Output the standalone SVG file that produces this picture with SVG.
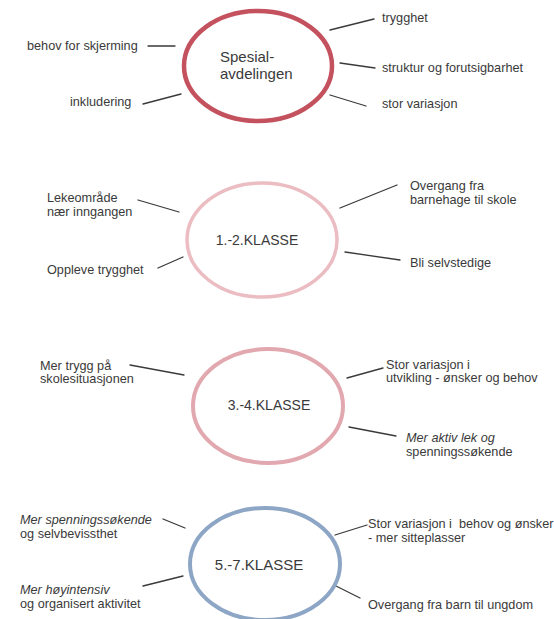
<svg xmlns="http://www.w3.org/2000/svg" width="554" height="619" viewBox="0 0 554 619">
<style>
.lbl{font-family:"Liberation Sans",Arial,sans-serif;font-size:12.7px;fill:#3a3a3a}
.ctr{font-family:"Liberation Sans",Arial,sans-serif;font-size:14px;fill:#3a3a3a}
.it{font-style:italic}
.e{fill:none}
#connectors line{stroke:#3a3a3a;stroke-width:1.3;stroke-linecap:round}
</style>
<rect width="554" height="619" fill="#ffffff"/>
<g id="connectors">
<line x1="148" y1="46" x2="175" y2="46"/>
<line x1="143" y1="104" x2="181" y2="94"/>
<line x1="330" y1="30" x2="374" y2="19"/>
<line x1="340" y1="63" x2="375" y2="68"/>
<line x1="330" y1="95" x2="366" y2="106"/>
<line x1="138" y1="200" x2="179" y2="212"/>
<line x1="158" y1="268" x2="183" y2="257"/>
<line x1="340" y1="208" x2="397" y2="185"/>
<line x1="345" y1="252" x2="400" y2="260"/>
<line x1="130" y1="365" x2="184" y2="375"/>
<line x1="347" y1="378" x2="383" y2="368"/>
<line x1="349" y1="427" x2="396" y2="436"/>
<line x1="163" y1="519" x2="185" y2="528"/>
<line x1="143" y1="586" x2="183" y2="576"/>
<line x1="335" y1="535" x2="367" y2="525"/>
<line x1="336" y1="586" x2="360" y2="598"/>
</g>
<g id="spesial">
<ellipse class="e" cx="258" cy="66" rx="74" ry="55" stroke="#c4525e" stroke-width="4.5"/>
<text class="ctr" x="220" y="62" style="font-size:15px">Spesial-</text>
<text class="ctr" x="220" y="79" style="font-size:15px">avdelingen</text>
</g>
<g id="n-behov"><text class="lbl" x="27" y="50">behov for skjerming</text></g>
<g id="n-inkl"><text class="lbl" x="70" y="106">inkludering</text></g>
<g id="n-trygghet"><text class="lbl" x="382" y="22">trygghet</text></g>
<g id="n-struktur"><text class="lbl" x="382" y="72">struktur og forutsigbarhet</text></g>
<g id="n-stor"><text class="lbl" x="382" y="108">stor variasjon</text></g>
<g id="klasse12">
<ellipse class="e" cx="262" cy="240" rx="75" ry="57" stroke="#ebbcc1" stroke-width="3.5"/>
<text class="ctr" x="257" y="245" text-anchor="middle">1.-2.KLASSE</text>
</g>
<g id="n-leke"><text class="lbl" x="47" y="202">Lekeområde</text><text class="lbl" x="47" y="216">nær inngangen</text></g>
<g id="n-oppleve"><text class="lbl" x="47" y="274">Oppleve trygghet</text></g>
<g id="n-overgang1"><text class="lbl" x="410" y="190">Overgang fra</text><text class="lbl" x="410" y="204">barnehage til skole</text></g>
<g id="n-bli"><text class="lbl" x="410" y="267">Bli selvstedige</text></g>
<g id="klasse34">
<ellipse class="e" cx="268" cy="406" rx="75" ry="57" stroke="#e2a8af" stroke-width="4"/>
<text class="ctr" x="269" y="410" text-anchor="middle">3.-4.KLASSE</text>
</g>
<g id="n-trygg"><text class="lbl" x="40" y="370">Mer trygg på</text><text class="lbl" x="40" y="383">skolesituasjonen</text></g>
<g id="n-variasjon34"><text class="lbl" x="386" y="369">Stor variasjon i</text><text class="lbl" x="386" y="382">utvikling - ønsker og behov</text></g>
<g id="n-aktiv"><text class="lbl it" x="406" y="442">Mer aktiv lek og</text><text class="lbl" x="406" y="456">spenningssøkende</text></g>
<g id="klasse57">
<ellipse class="e" cx="265" cy="564" rx="75" ry="56" stroke="#8ea6c6" stroke-width="4"/>
<text class="ctr" x="259" y="570" text-anchor="middle" style="font-size:15px">5.-7.KLASSE</text>
</g>
<g id="n-spenning"><text class="lbl it" x="20" y="524">Mer spenningssøkende</text><text class="lbl" x="20" y="538">og selvbevissthet</text></g>
<g id="n-hoy"><text class="lbl it" x="20" y="594">Mer høyintensiv</text><text class="lbl" x="20" y="608">og organisert aktivitet</text></g>
<g id="n-variasjon57"><text class="lbl" x="368" y="528" xml:space="preserve" style="white-space:pre">Stor variasjon i  behov og ønsker</text><text class="lbl" x="368" y="542">- mer sitteplasser</text></g>
<g id="n-overgang2"><text class="lbl" x="368" y="609">Overgang fra barn til ungdom</text></g>
</svg>
